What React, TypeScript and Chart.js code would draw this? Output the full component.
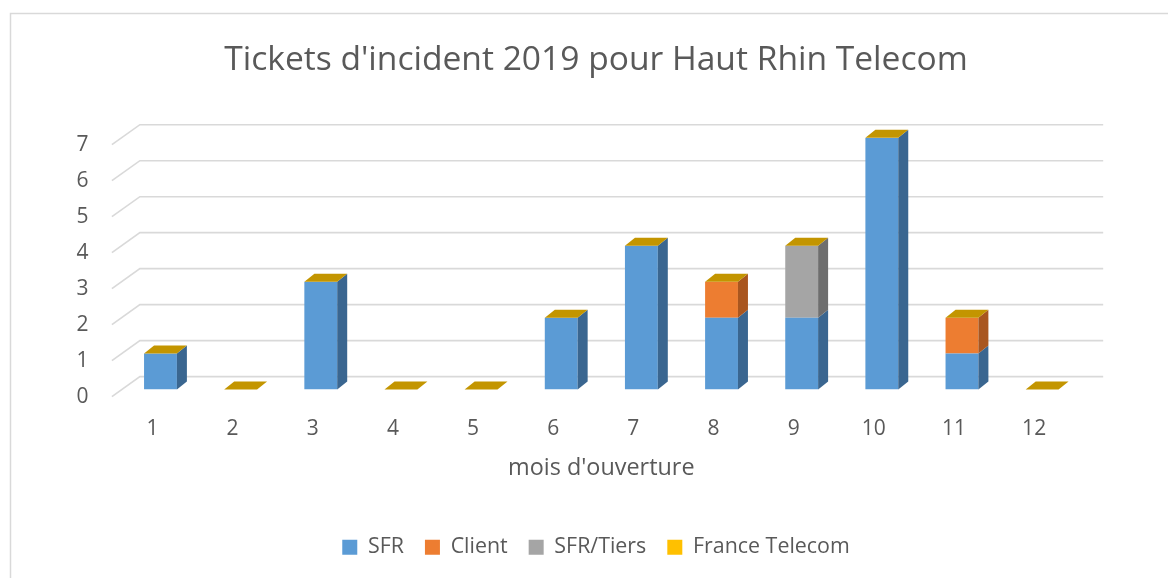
import React, { useEffect, useRef } from "react";
import { Chart, registerables } from "chart.js";

Chart.register(...registerables);

const months = ["1", "2", "3", "4", "5", "6", "7", "8", "9", "10", "11", "12"];
const sfr = [1, 0, 3, 0, 0, 2, 4, 2, 2, 7, 1, 0];
const client = [0, 0, 0, 0, 0, 0, 0, 1, 0, 0, 1, 0];
const sfrTiers = [0, 0, 0, 0, 0, 0, 0, 0, 2, 0, 0, 0];
const franceTelecom = [0, 0, 0, 0, 0, 0, 0, 0, 0, 0, 0, 0];
const yTicks = [0, 1, 2, 3, 4, 5, 6, 7];

const seriesNames = ["SFR", "Client", "SFR/Tiers", "France Telecom"];
const frontColors = ["#5B9BD5", "#ED7D31", "#A5A5A5", "#FFC000"];
const sideColors = ["#3A6690", "#A9561F", "#6E6E6E", "#B08400"];
const topColors = ["#6FA8DC", "#F08A45", "#B5B5B5", "#C39500"];

const TEXT = "#595959";
const GRID = "#d9d9d9";
// 3D depth of bars (pixels)
const DX = 10;
const DY = 8;

const depthPlugin = {
  id: "depth3d",
  beforeDraw(chart: any) {
    const ctx = chart.ctx;
    ctx.save();
    ctx.fillStyle = "#ffffff";
    ctx.fillRect(0, 0, chart.width, chart.height);
    ctx.strokeStyle = "#d9d9d9";
    ctx.lineWidth = 1.5;
    ctx.strokeRect(10.5, 13.5, chart.width + 20, chart.height + 20);
    ctx.restore();
  },
  beforeDatasetsDraw(chart: any) {
    const ctx = chart.ctx;
    const { left, right } = chart.chartArea;
    const ys = chart.scales.y;
    ctx.save();
    ctx.strokeStyle = GRID;
    ctx.lineWidth = 1.6;
    ys.ticks.forEach((t: any) => {
      const p = ys.getPixelForValue(t.value);
      ctx.beginPath();
      ctx.moveTo(left - 8.5, p + 7);
      ctx.lineTo(left + 19.5, p - 13);
      ctx.lineTo(right + 21, p - 13);
      ctx.stroke();
    });
    ctx.restore();
  },
  afterDatasetsDraw(chart: any) {
    const ctx = chart.ctx;
    const n = chart.data.datasets.length;
    ctx.save();
    for (let i = 0; i < n; i++) {
      const meta = chart.getDatasetMeta(i);
      meta.data.forEach((el: any) => {
        const { x, y, base, width } = el.getProps(["x", "y", "base", "width"], true);
        const l = x - width / 2;
        const r = x + width / 2;
        if (Math.abs(base - y) > 0.5) {
          ctx.fillStyle = sideColors[i];
          ctx.beginPath();
          ctx.moveTo(r, y);
          ctx.lineTo(r + DX, y - DY);
          ctx.lineTo(r + DX, base - DY);
          ctx.lineTo(r, base);
          ctx.closePath();
          ctx.fill();
        }
        if (i === n - 1) {
          ctx.fillStyle = topColors[i];
          ctx.beginPath();
          ctx.moveTo(l, y);
          ctx.lineTo(l + DX, y - DY);
          ctx.lineTo(r + DX, y - DY);
          ctx.lineTo(r, y);
          ctx.closePath();
          ctx.fill();
        }
      });
    }
    ctx.restore();
  },
};

export default function App() {
  const ref = useRef<HTMLCanvasElement | null>(null);

  useEffect(() => {
    if (!ref.current) return;
    Chart.defaults.font.family = "'Open Sans', Lato, sans-serif";
    const seriesData = [sfr, client, sfrTiers, franceTelecom];
    const chart = new Chart(ref.current, {
      type: "bar",
      data: {
        labels: months,
        datasets: seriesNames.map((name, i) => ({
          label: name,
          data: seriesData[i],
          backgroundColor: frontColors[i],
          borderWidth: 0,
          categoryPercentage: 1,
          barPercentage: 0.41,
          yAxisID: "y",
        })),
      },
      options: {
        responsive: false,
        animation: false,
        layout: { padding: { left: 24, right: 0, top: 0, bottom: 10 } },
        plugins: {
          tooltip: { enabled: false },
          title: {
            display: true,
            text: "Tickets d'incident 2019 pour Haut Rhin Telecom",
            color: TEXT,
            font: { size: 33.6, weight: "normal" },
            padding: { top: 39.8, bottom: 57.6 },
          },
          legend: {
            position: "bottom",
            labels: {
              color: TEXT,
              boxWidth: 15,
              boxHeight: 15,
              padding: 21,
              font: { size: 21.4 },
            },
          },
        },
        scales: {
          x: {
            stacked: true,
            grid: { display: false, drawTicks: false },
            border: { display: false },
            ticks: { color: TEXT, font: { size: 21 }, padding: 27, labelOffset: -8 },
            title: {
              display: true,
              text: "mois d'ouverture",
              color: TEXT,
              font: { size: 23.4 },
              padding: { top: 0, bottom: 33.7 },
            },
            afterFit: (s: any) => {
              s.height = 126;
            },
          },
          y: {
            stacked: true,
            min: 0,
            max: 7,
            grid: { display: false, drawTicks: false },
            border: { display: false },
            ticks: { color: TEXT, font: { size: 21 }, padding: 32, labelOffset: 7 },
            afterBuildTicks: (s: any) => {
              s.ticks = yTicks.map((v) => ({ value: v }));
            },
            afterFit: (s: any) => {
              s.width = 96.4;
            },
          },
          yRight: {
            position: "right",
            display: true,
            min: 0,
            max: 1,
            grid: { display: false, drawTicks: false },
            border: { display: false },
            ticks: { display: false },
            afterFit: (s: any) => {
              s.width = 85.8;
            },
          },
        },
      },
      plugins: [depthPlugin],
    });
    return () => chart.destroy();
  }, []);

  return (
    <div style={{ position: "absolute", left: 0, top: 0, width: 1168, height: 578 }}>
      <canvas ref={ref} width={1168} height={578} />
    </div>
  );
}
